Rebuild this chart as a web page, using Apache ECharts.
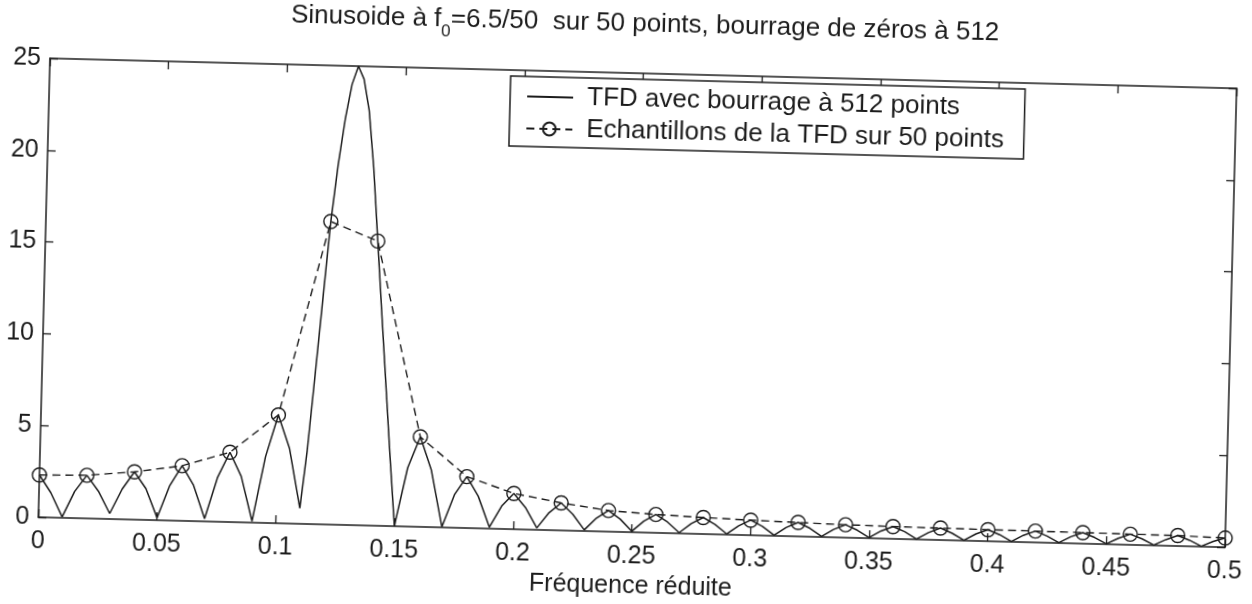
<!DOCTYPE html>
<html>
<head>
<meta charset="utf-8">
<script src="https://cdn.jsdelivr.net/npm/echarts@6/dist/echarts.min.js"></script>
<style>
  html, body { margin: 0; padding: 0; background: #fff; overflow: hidden; }
  /* la figure scannée est légèrement tournée */
  #main { width: 1252px; height: 604px; transform: rotate(1.45deg); transform-origin: 50% 50%; }
</style>
</head>
<body>
<div id="main"></div>
<script>
// tick labels
var xTicks = ['0', '0.05', '0.1', '0.15', '0.2', '0.25', '0.3', '0.35', '0.4', '0.45', '0.5'];
var yTicks = ['0', '5', '10', '15', '20', '25'];

// TFD avec bourrage a 512 points
var tfdFreq = [
  0, 0.005, 0.01, 0.015, 0.02, 0.025, 0.03, 0.035, 0.04, 0.045,
  0.05, 0.055, 0.06, 0.065, 0.07, 0.075, 0.08, 0.085, 0.09, 0.095,
  0.1, 0.105, 0.11,
  0.1125, 0.115, 0.1175, 0.12, 0.1225, 0.125, 0.1275, 0.13, 0.1325, 0.135,
  0.1375, 0.14, 0.1425, 0.145, 0.1475,
  0.15, 0.155, 0.16, 0.165, 0.17, 0.175, 0.18, 0.185, 0.19, 0.195,
  0.2, 0.205, 0.21, 0.215, 0.22, 0.225, 0.23, 0.235, 0.24, 0.245,
  0.25, 0.255, 0.26, 0.265, 0.27, 0.275, 0.28, 0.285, 0.29, 0.295,
  0.3, 0.305, 0.31, 0.315, 0.32, 0.325, 0.33, 0.335, 0.34, 0.345,
  0.35, 0.355, 0.36, 0.365, 0.37, 0.375, 0.38, 0.385, 0.39, 0.395,
  0.4, 0.405, 0.41, 0.415, 0.42, 0.425, 0.43, 0.435, 0.44, 0.445,
  0.45, 0.455, 0.46, 0.465, 0.47, 0.475, 0.48, 0.485, 0.49, 0.495,
  0.5
];
var tfdMag = [
  2.3, 1.35, 0.05, 1.45, 2.35, 1.5, 0.3, 1.65, 2.6, 1.7,
  0.13, 1.9, 3.0, 1.95, 0.15, 2.4, 3.8, 2.5, 0.08, 3.6,
  5.9, 4.1, 0.85,
  4.0, 8.1, 12.3, 16.5, 19.6, 22.1, 24.0, 25.0, 24.3, 22.6,
  19.5, 15.5, 11.5, 7.6, 3.7,
  0.02, 3.2, 4.9, 3.1, 0.03, 1.8, 2.8, 1.75, 0.08, 1.25,
  1.95, 1.2, 0.1, 0.95, 1.5, 0.9, 0.06, 0.72, 1.15, 0.7,
  0.05, 0.62, 1.0, 0.6, 0.04, 0.55, 0.9, 0.54, 0.04, 0.5,
  0.82, 0.5, 0.03, 0.47, 0.76, 0.46, 0.03, 0.43, 0.7, 0.42,
  0.03, 0.41, 0.67, 0.4, 0.02, 0.39, 0.65, 0.38, 0.02, 0.38,
  0.63, 0.37, 0.02, 0.37, 0.62, 0.36, 0.02, 0.36, 0.6, 0.35,
  0.02, 0.34, 0.58, 0.34, 0.02, 0.33, 0.57, 0.33, 0.02, 0.3,
  0.5
];

// Echantillons de la TFD sur 50 points
var echFreq = [0, 0.02, 0.04, 0.06, 0.08, 0.1, 0.12, 0.14, 0.16, 0.18, 0.2, 0.22, 0.24,
  0.26, 0.28, 0.3, 0.32, 0.34, 0.36, 0.38, 0.4, 0.42, 0.44, 0.46, 0.48, 0.5];
var echMag = [2.3, 2.35, 2.6, 3.0, 3.8, 5.9, 16.5, 15.5, 4.9, 2.8, 1.95, 1.5, 1.15,
  1.0, 0.9, 0.82, 0.76, 0.7, 0.67, 0.65, 0.63, 0.62, 0.6, 0.58, 0.57, 0.5];

var ink = '#1c1c1c';
var font = '"Liberation Sans", Arial, Helvetica, sans-serif';
var nameTfd = 'TFD avec bourrage à 512 points';
var nameEch = 'Echantillons de la TFD sur 50 points';

function pairs(xs, ys) {
  var out = [];
  for (var i = 0; i < xs.length; i++) out.push([xs[i], ys[i]]);
  return out;
}

function tickLabel(list, step) {
  return function (v) {
    var i = Math.round(v / step);
    return list[i] !== undefined ? list[i] : '';
  };
}

function xAxisOpt(pos, showLabel) {
  return {
    type: 'value', position: pos, min: 0, max: 0.5, interval: 0.05,
    axisLine: { onZero: false, lineStyle: { color: ink, width: 1.5 } },
    axisTick: { inside: true, length: 8, lineStyle: { color: ink, width: 1.3 } },
    axisLabel: { show: showLabel, margin: 12, fontSize: 25, fontFamily: font, color: ink,
      formatter: tickLabel(xTicks, 0.05) },
    splitLine: { show: false }
  };
}

function yAxisOpt(pos, showLabel) {
  return {
    type: 'value', position: pos, min: 0, max: 25, interval: 5,
    axisLine: { show: true, onZero: false, lineStyle: { color: ink, width: 1.5 } },
    axisTick: { show: true, inside: true, length: 8, lineStyle: { color: ink, width: 1.3 } },
    axisLabel: { show: showLabel, margin: 9, fontSize: 25, fontFamily: font, color: ink,
      formatter: tickLabel(yTicks, 5) },
    splitLine: { show: false }
  };
}

var chart = echarts.init(document.getElementById('main'), null, { renderer: 'canvas' });

var xBottom = xAxisOpt('bottom', true);
xBottom.name = 'Fréquence réduite';
xBottom.nameLocation = 'middle';
xBottom.nameGap = 42;
xBottom.nameTextStyle = { fontSize: 25, fontFamily: font, color: ink };

chart.setOption({
  backgroundColor: '#ffffff',
  animation: false,
  title: {
    left: 284, top: 11, padding: 0,
    text: '{a|Sinusoide à f}{s|0}{a|=6.5/50  sur 50 points, bourrage de zéros à 512}',
    textStyle: {
      fontWeight: 'normal',
      rich: {
        a: { fontSize: 26, lineHeight: 28, fontFamily: font, fontWeight: 'normal', color: ink, verticalAlign: 'top' },
        s: { fontSize: 17, lineHeight: 17, fontFamily: font, fontWeight: 'normal', color: ink, verticalAlign: 'top', padding: [17, 0, 0, 0] }
      }
    }
  },
  legend: {
    orient: 'vertical', left: 505, top: 79,
    padding: [5, 20, 3, 16], itemGap: 2,
    itemWidth: 46, itemHeight: 16,
    borderColor: ink, borderWidth: 1.5, backgroundColor: '#fff',
    textStyle: { fontSize: 26, lineHeight: 30, fontFamily: font, color: ink, padding: [0, 0, 0, 9] },
    data: [
      { name: nameTfd, itemStyle: { color: 'rgba(0,0,0,0)', borderWidth: 0 } },
      { name: nameEch }
    ]
  },
  grid: { left: 44, right: 21, top: 73, bottom: 70, containLabel: false },
  xAxis: [xBottom, xAxisOpt('top', false)],
  yAxis: [yAxisOpt('left', true), yAxisOpt('right', false)],
  series: [
    {
      name: nameTfd,
      type: 'line', xAxisIndex: 0, yAxisIndex: 0,
      data: pairs(tfdFreq, tfdMag),
      showSymbol: false, symbol: 'none',
      lineStyle: { color: ink, width: 1.5 },
      itemStyle: { color: ink },
      z: 2
    },
    {
      name: nameEch,
      type: 'line', xAxisIndex: 0, yAxisIndex: 0,
      data: pairs(echFreq, echMag),
      symbol: 'circle', symbolSize: 14, showAllSymbol: true,
      lineStyle: { color: ink, width: 1.4, type: [8, 5] },
      itemStyle: { color: 'rgba(0,0,0,0)', borderColor: ink, borderWidth: 1.4 },
      z: 3
    }
  ]
});
</script>
</body>
</html>
